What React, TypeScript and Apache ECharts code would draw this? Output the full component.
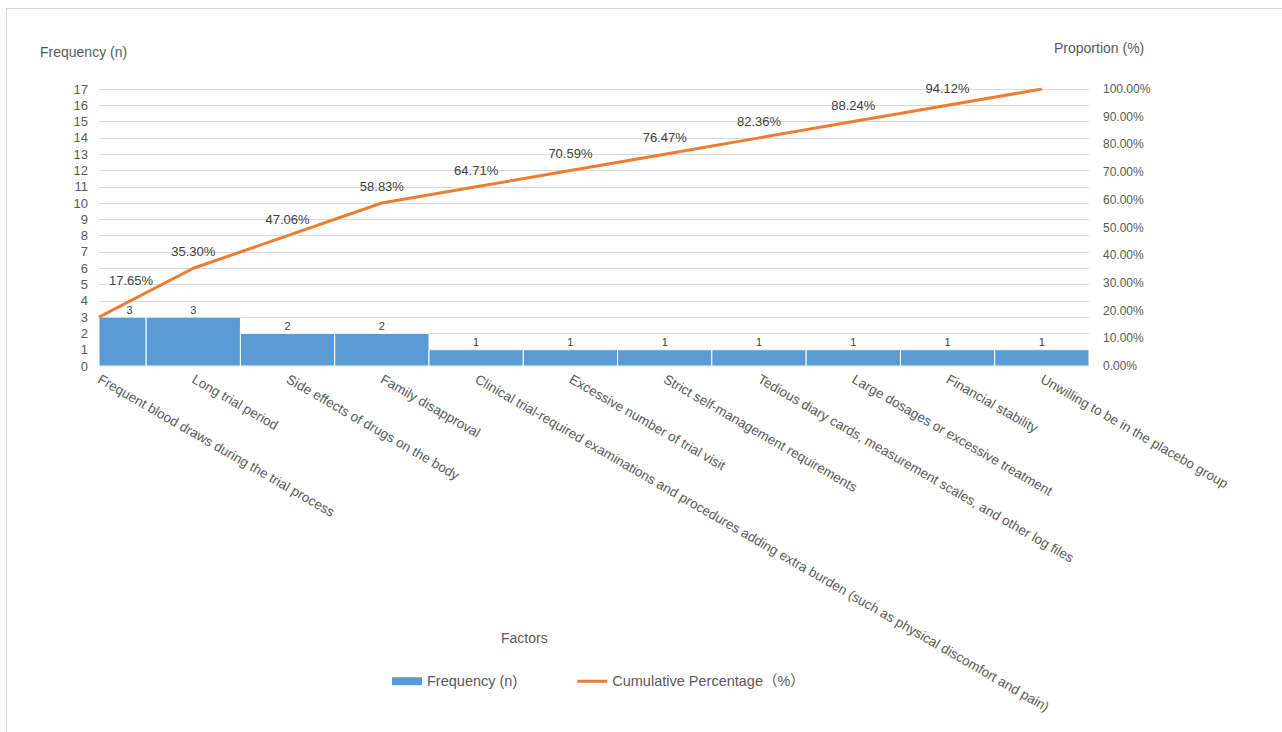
import React, { useEffect, useRef } from "react";
import * as echarts from "echarts";

// Reasons for withdrawing from trials, sorted by frequency (Pareto order)
const categories: string[] = [
  "Frequent blood draws during the trial process",
  "Long trial period",
  "Side effects of drugs on the body",
  "Family disapproval",
  "Clinical trial-required examinations and procedures adding extra burden (such as physical discomfort and pain)",
  "Excessive number of trial visit",
  "Strict self-management requirements",
  "Tedious diary cards, measurement scales, and other log files",
  "Large dosages or excessive treatment",
  "Financial stability",
  "Unwilling to be in the placebo group",
];

const frequency: number[] = [3, 3, 2, 2, 1, 1, 1, 1, 1, 1, 1];

const cumulativePercentage: number[] = [
  17.65, 35.3, 47.06, 58.83, 64.71, 70.59, 76.47, 82.36, 88.24, 94.12, 100,
];

const FONT = "'Liberation Sans', Arial, 'Noto Sans CJK SC', sans-serif";
const GREY = "#595959";

const GRID_LEFT = 99;
const GRID_TOP = 89;
const GRID_WIDTH = 990;
const GRID_HEIGHT = 277;
const X_MAX = categories.length - 0.5;

export default function App() {
  const ref = useRef<HTMLDivElement>(null);

  useEffect(() => {
    if (!ref.current) return;
    const chart = echarts.init(ref.current, undefined, { renderer: "svg" });

    // Bars span one full category each, centred on the category value,
    // and are clipped to the plotting area (the first one shows only its right half).
    const barData = frequency.map((v, i) => [i, v]);

    const lineData = cumulativePercentage.map((v, i) => ({
      value: [i, v],
      label:
        i === 0
          ? { offset: [32, -20] }
          : i === cumulativePercentage.length - 1
          ? { show: false }
          : undefined,
    }));

    chart.setOption({
      animation: false,
      backgroundColor: "#ffffff",
      textStyle: { fontFamily: FONT },
      grid: {
        left: GRID_LEFT,
        top: GRID_TOP,
        width: GRID_WIDTH,
        height: GRID_HEIGHT,
        containLabel: false,
      },
      legend: {
        left: 387,
        top: 669,
        itemWidth: 30,
        itemHeight: 8,
        itemGap: 60,
        textStyle: { fontFamily: FONT, fontSize: 14.5, color: GREY },
        data: [
          { name: "Frequency (n)", icon: "rect", itemStyle: { color: "#5b9bd5" } },
          {
            name: "Cumulative Percentage（%）",
            icon: "path://M0,0L30,0L30,3L0,3Z",
            itemStyle: { color: "#ed7d31" },
          },
        ],
      },
      xAxis: {
        type: "value",
        min: 0,
        max: X_MAX,
        interval: 1,
        axisLine: { show: false },
        axisTick: { show: false },
        splitLine: { show: false },
        axisLabel: {
          rotate: -30,
          margin: 12,
          fontSize: 13.5,
          color: GREY,
          fontFamily: FONT,
          formatter: (v: number) =>
            Number.isInteger(v) && categories[v] ? categories[v] : "",
        },
      },
      yAxis: [
        {
          type: "value",
          min: 0,
          max: 17,
          interval: 1,
          axisLine: { show: false },
          axisTick: { show: false },
          splitLine: { lineStyle: { color: "#d9d9d9", width: 1 } },
          axisLabel: { fontSize: 13, color: GREY, margin: 11, fontFamily: FONT },
        },
        {
          type: "value",
          min: 0,
          max: 100,
          interval: 10,
          axisLine: { show: false },
          axisTick: { show: false },
          splitLine: { show: false },
          axisLabel: {
            fontSize: 12,
            color: GREY,
            margin: 14,
            fontFamily: FONT,
            formatter: (v: number) => v.toFixed(2) + "%",
          },
        },
      ],
      series: [
        {
          name: "Frequency (n)",
          type: "custom",
          xAxisIndex: 0,
          yAxisIndex: 0,
          encode: { x: 0, y: 1 },
          itemStyle: { color: "#5b9bd5" },
          renderItem: (params: any, api: any) => {
            const x = api.value(0);
            const y = api.value(1);
            const p0 = api.coord([x - 0.5, y]);
            const p1 = api.coord([x + 0.5, 0]);
            const cs = params.coordSys;
            const shape = echarts.graphic.clipRectByRect(
              { x: p0[0], y: p0[1], width: p1[0] - p0[0], height: p1[1] - p0[1] },
              { x: cs.x, y: cs.y, width: cs.width, height: cs.height }
            );
            const top = api.coord([x, y]);
            const labelX = shape ? shape.x + shape.width / 2 + (x === 0 ? 7 : 0) : top[0];
            return {
              type: "group",
              children: [
                shape && {
                  type: "rect",
                  shape,
                  style: { fill: "#5b9bd5", stroke: "#ffffff", lineWidth: 1 },
                },
                {
                  type: "text",
                  x: x === 0 ? labelX : top[0],
                  y: top[1] - 2,
                  style: {
                    text: String(y),
                    fontSize: 11,
                    fill: "#404040",
                    fontFamily: FONT,
                    align: "center",
                    verticalAlign: "bottom",
                  },
                },
              ].filter(Boolean),
            };
          },
          data: barData,
        },
        {
          name: "Cumulative Percentage（%）",
          type: "line",
          xAxisIndex: 0,
          yAxisIndex: 1,
          symbol: "circle",
          symbolSize: 0,
          lineStyle: { color: "#ed7d31", width: 3 },
          itemStyle: { color: "#ed7d31" },
          label: {
            show: true,
            position: "top",
            distance: 10,
            fontSize: 13,
            color: "#404040",
            fontFamily: FONT,
            formatter: (p: any) => Number(p.value[1]).toFixed(2) + "%",
          },
          data: lineData,
        },
      ],
      graphic: [
        {
          type: "line",
          shape: { x1: 7, y1: 8.5, x2: 1282, y2: 8.5 },
          style: { stroke: "#d9d9d9", lineWidth: 1 },
          silent: true,
        },
        {
          type: "line",
          shape: { x1: 6.5, y1: 8, x2: 6.5, y2: 732 },
          style: { stroke: "#d9d9d9", lineWidth: 1 },
          silent: true,
        },
        {
          type: "text",
          left: 40,
          top: 45,
          style: { text: "Frequency (n)", fontSize: 14, fill: GREY, fontFamily: FONT },
        },
        {
          type: "text",
          left: 1054,
          top: 41,
          style: { text: "Proportion (%)", fontSize: 14, fill: GREY, fontFamily: FONT },
        },
        {
          type: "text",
          left: 501,
          top: 631,
          style: { text: "Factors", fontSize: 14, fill: GREY, fontFamily: FONT },
        },
      ],
    });

    return () => chart.dispose();
  }, []);

  return (
    <div
      ref={ref}
      style={{ position: "fixed", left: 0, top: 0, width: 1282, height: 732 }}
    />
  );
}
